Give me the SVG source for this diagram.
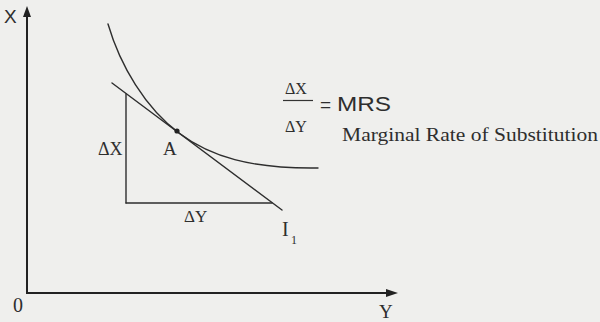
<svg xmlns="http://www.w3.org/2000/svg" width="600" height="322" viewBox="0 0 600 322">
<defs>
<style>
.ln{fill:none;stroke:#2e2e2e;stroke-width:1.4;stroke-linecap:round}
.ax{fill:none;stroke:#222;stroke-width:2}
.ah{fill:#222}
.t{font-family:"Liberation Serif","Times New Roman",serif;fill:#2e2e2e}
.s{font-family:"Liberation Sans",Arial,sans-serif;fill:#2e2e2e}
</style>
</defs>
<rect width="600" height="322" fill="#efefed"/>
<g id="axes">
<line class="ax" x1="27" y1="15" x2="27" y2="293"/>
<line class="ax" x1="26" y1="293" x2="389" y2="293"/>
<polygon class="ah" points="27,6 23,17 31,17"/>
<polygon class="ah" points="398,293 386,289 386,297"/>
<text class="s" x="4" y="23" font-size="19" fill="#555">X</text>
<text class="t" x="13" y="312" font-size="20">0</text>
<text class="t" x="379" y="318" font-size="19">Y</text>
</g>
<g id="connectors">
<path id="curve-I1" class="ln" d="M108,24 C120,65 145,108 180,133.8 C210,156.2 250,169 318,168"/>
<line id="tangent" class="ln" x1="112" y1="83" x2="282" y2="210"/>
<line id="deltaX-leg" class="ln" x1="126" y1="94" x2="126" y2="203"/>
<line id="deltaY-leg" class="ln" x1="126" y1="203" x2="272" y2="203"/>
</g>
<g id="pointA">
<circle cx="177" cy="131" r="2.6" fill="#222"/>
<text class="t" x="163" y="155" font-size="19">A</text>
</g>
<g id="labels">
<text class="t" x="98" y="155" font-size="18">ΔX</text>
<text class="t" x="184" y="222" font-size="17">ΔY</text>
<text class="t" x="282" y="236" font-size="20">I</text>
<text class="t" x="291" y="244" font-size="12">1</text>
</g>
<g id="formula">
<text class="t" x="285" y="94" font-size="16">ΔX</text>
<line x1="283" y1="100.5" x2="313" y2="100.5" stroke="#333" stroke-width="1.2"/>
<text class="t" x="285" y="132" font-size="16">ΔY</text>
<text class="s" x="320" y="111" font-size="19">=</text>
<text class="s" x="337" y="111" font-size="20" textLength="54" lengthAdjust="spacingAndGlyphs">MRS</text>
<text class="t" x="342" y="141" font-size="18" textLength="256" lengthAdjust="spacingAndGlyphs">Marginal Rate of Substitution</text>
</g>
</svg>
